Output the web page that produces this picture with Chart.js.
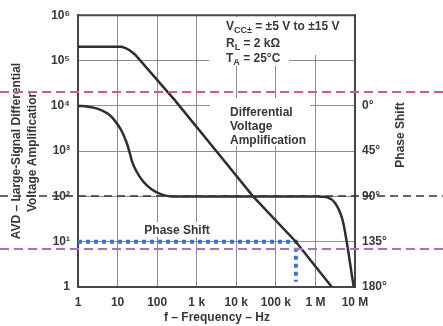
<!DOCTYPE html>
<html>
<head>
<meta charset="utf-8">
<script src="https://cdn.jsdelivr.net/npm/chart.js@4.4.0/dist/chart.umd.min.js"></script>
<style>
  html, body { margin: 0; padding: 0; background: #fff; }
  #wrap { width: 443px; height: 326px; }
</style>
</head>
<body>
<div id="wrap"><canvas id="chart" width="443" height="326"></canvas></div>
<script>
// Frequency axis decades (Hz)
const freqTicks = [1, 10, 100, 1e3, 1e4, 1e5, 1e6, 1e7];
const freqLabels = ["1", "10", "100", "1 k", "10 k", "100 k", "1 M", "10 M"];

// Gain axis decades
const gainTicks = [1, 10, 100, 1e3, 1e4, 1e5, 1e6];
const gainLabels = ["1", "10¹", "10²", "10³", "10⁴", "10⁵", "10⁶"];

// Phase axis (right side, degrees)
const phaseTicks = [0, 45, 90, 135, 180];
const phaseLabels = ["0°", "45°", "90°", "135°", "180°"];

// Differential voltage amplification
const gainFreq = [1, 12.7, 16, 19.6, 23, 27.5, 282, 3900, 26500, 320000, 2.6e6];
const gainValue = [2e5, 2e5, 1.87e5, 1.71e5, 1.54e5, 1.36e5, 1.32e4, 790, 100, 10, 1];

// Phase shift
const phaseFreq = [1, 1.8, 3.2, 5.75, 8.5, 12.5, 16.7, 20.4, 23.3, 29.9, 44, 72, 128, 230, 1.1e6, 2.0e6, 3.2e6, 4.3e6, 5.1e6, 9.3e6];
const phaseValue = [0, 1, 3, 8, 14.7, 24.5, 36, 47, 55.5, 65, 75, 83, 88, 90, 90, 91, 97, 107, 117, 180];

// Blue dotted marker where gain crosses 10
const markFreq = [1, 320000, 320000];
const markGain = [10, 10, 1.3];

// Horizontal guide lines across the picture (gain values)
const guideValues = [2.05e4, 100, 7.05];

const textColor = "#383838";
const labelFont = "bold 12px 'Liberation Sans', Arial, sans-serif";
const subFont = "bold 9px 'Liberation Sans', Arial, sans-serif";

function drawRich(ctx, x, y, parts) {
    let cx = x;
    parts.forEach(function(p) {
        ctx.font = p[1] ? subFont : labelFont;
        ctx.fillText(p[0], cx, p[1] ? y + 3 : y);
        cx += ctx.measureText(p[0]).width;
    });
}

const notesPlugin = {
    id: "notes",
    beforeDatasetsDraw(chart) {
        const ctx = chart.ctx;
        ctx.save();
        // white boxes behind the notes hide the grid
        ctx.fillStyle = "#fff";
        ctx.fillRect(209, 17, 136, 38);
        ctx.fillRect(209, 55, 80, 11);
        ctx.fillRect(210, 98, 100, 48);
        ctx.fillRect(140, 222, 73, 15);

        ctx.fillStyle = textColor;
        ctx.textAlign = "left";
        ctx.textBaseline = "alphabetic";
        drawRich(ctx, 226, 30, [["V"], ["CC±", true], [" = ±5 V to ±15 V"]]);
        drawRich(ctx, 226, 47, [["R"], ["L", true], [" = 2 kΩ"]]);
        drawRich(ctx, 226, 62, [["T"], ["A", true], [" = 25°C"]]);
        ctx.font = labelFont;
        ctx.fillText("Differential", 230, 116);
        ctx.fillText("Voltage", 230, 130);
        ctx.fillText("Amplification", 230, 144);
        ctx.textAlign = "center";
        ctx.fillText("Phase Shift", 177, 234);
        ctx.restore();
    },
    afterDraw(chart) {
        const ctx = chart.ctx;
        const a = chart.chartArea;
        ctx.save();

        // top frame line
        ctx.strokeStyle = "#474747";
        ctx.lineWidth = 2;
        ctx.beginPath();
        ctx.moveTo(a.left - 1, a.top);
        ctx.lineTo(a.right + 1, a.top);
        ctx.stroke();

        // axis titles
        ctx.fillStyle = textColor;
        ctx.font = labelFont;
        ctx.textAlign = "center";
        ctx.textBaseline = "middle";
        const cy = (a.top + a.bottom) / 2;
        ctx.save();
        ctx.translate(17, cy);
        ctx.rotate(-Math.PI / 2);
        ctx.fillText("AVD – Large-Signal Differential", 0, 0);
        ctx.restore();
        ctx.save();
        ctx.translate(33, cy);
        ctx.rotate(-Math.PI / 2);
        ctx.fillText("Voltage Amplification", 0, 0);
        ctx.restore();
        ctx.save();
        ctx.translate(401, 135);
        ctx.rotate(-Math.PI / 2);
        ctx.fillText("Phase Shift", 0, 0);
        ctx.restore();
        ctx.fillText("f – Frequency – Hz", 217, 318);

        // dashed guide lines
        const guideStyles = [
            {color: "rgba(214, 92, 122, 1)", width: 2, dash: [9, 5]},
            {color: "rgba(60, 40, 90, 1)", width: 1.5, dash: [8, 5]},
            {color: "rgba(160, 115, 195, 1)", width: 2, dash: [9, 5]},
        ];
        guideValues.forEach(function(v, i) {
            const y = Math.round(chart.scales.y.getPixelForValue(v));
            const s = guideStyles[i];
            ctx.strokeStyle = s.color;
            ctx.lineWidth = s.width;
            ctx.setLineDash(s.dash);
            ctx.beginPath();
            ctx.moveTo(0, y);
            ctx.lineTo(chart.width, y);
            ctx.stroke();
        });
        ctx.restore();
    }
};

const tickFont = {family: "'Liberation Sans', Arial, sans-serif", size: 12, weight: "bold"};

new Chart(document.getElementById("chart"), {
    type: "line",
    data: {
        datasets: [
            {
                data: gainFreq.map((f, i) => ({x: f, y: gainValue[i]})),
                yAxisID: "y",
                borderColor: "#2e2e2e",
                borderWidth: 2.5,
                pointRadius: 0,
                tension: 0,
            },
            {
                data: phaseFreq.map((f, i) => ({x: f, y: phaseValue[i]})),
                yAxisID: "y2",
                borderColor: "#2e2e2e",
                borderWidth: 2.5,
                pointRadius: 0,
                cubicInterpolationMode: "monotone",
            },
            {
                data: markFreq.map((f, i) => ({x: f, y: markGain[i]})),
                yAxisID: "y",
                borderColor: "#3a72d6",
                borderWidth: 4,
                borderDash: [4, 4],
                borderCapStyle: "butt",
                pointRadius: 0,
                tension: 0,
            },
        ],
    },
    options: {
        responsive: false,
        animation: false,
        devicePixelRatio: 1,
        layout: {padding: {top: 10, left: 0, right: 0, bottom: 0}},
        plugins: {legend: {display: false}, tooltip: {enabled: false}},
        scales: {
            x: {
                type: "logarithmic",
                min: 1,
                max: 1e7,
                afterBuildTicks: (s) => { s.ticks = freqTicks.map(v => ({value: v})); },
                afterFit: (s) => { s.height = 39; },
                ticks: {
                    callback: (v, i) => freqLabels[i],
                    font: tickFont,
                    color: textColor,
                    padding: 8,
                    maxRotation: 0,
                    autoSkip: false,
                },
                grid: {color: "#8e8e8e", lineWidth: 1, drawTicks: false},
                border: {color: "#474747", width: 2},
            },
            y: {
                type: "logarithmic",
                position: "left",
                min: 1,
                max: 1e6,
                afterBuildTicks: (s) => { s.ticks = gainTicks.map(v => ({value: v})); },
                afterFit: (s) => { s.width = 78; },
                ticks: {
                    callback: (v, i) => gainLabels[i],
                    font: tickFont,
                    color: textColor,
                    padding: 8,
                    autoSkip: false,
                },
                grid: {color: "#8e8e8e", lineWidth: 1, drawTicks: false},
                border: {color: "#474747", width: 2},
            },
            y2: {
                type: "linear",
                position: "right",
                reverse: true,
                min: -90,
                max: 180,
                afterBuildTicks: (s) => { s.ticks = phaseTicks.map(v => ({value: v})); },
                afterFit: (s) => { s.width = 88; },
                ticks: {
                    callback: (v, i) => phaseLabels[i],
                    font: tickFont,
                    color: textColor,
                    padding: 7,
                    autoSkip: false,
                },
                grid: {display: false, drawTicks: false},
                border: {color: "#474747", width: 2},
            },
        },
    },
    plugins: [notesPlugin],
});
</script>
</body>
</html>
